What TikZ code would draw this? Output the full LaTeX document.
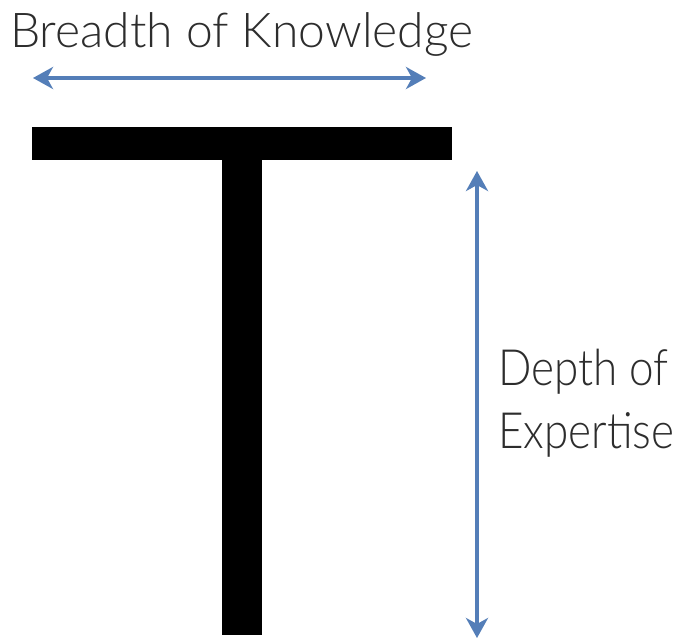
\documentclass[tikz,border=0pt]{standalone}
\usepackage{fontspec}
\setmainfont{Lato Light}
\newfontfamily\narrowlato[FakeStretch=0.88]{Lato Light}
\usepackage{xcolor}
\definecolor{sblue}{RGB}{84,126,184}
\definecolor{tgray}{RGB}{45,45,45}
\usetikzlibrary{arrows.meta,positioning}

\begin{document}
\begin{tikzpicture}[
  x=1pt,y=-1pt,
  tbar/.style={rectangle,fill=black,inner sep=0pt,outer sep=0pt},
  lbl/.style={inner sep=0pt,font=\fontsize{48}{64}\selectfont,text=tgray},
  lbln/.style={lbl,font=\narrowlato\fontsize{50}{64}\selectfont},
  arrow/.style={{Stealth[length=20pt,width=22pt,inset=6pt]}-{Stealth[length=20pt,width=22pt,inset=6pt]},line width=4pt,sblue}
]
  \useasboundingbox[fill=white] (0,0) rectangle (698,640);

  % the T
  \node[tbar,minimum width=420pt,minimum height=33pt,anchor=north west] (top) at (32,127) {};
  \node[tbar,minimum width=40pt,minimum height=475pt,below=0pt of top] (stem) {};

  % breadth
  \node[lbl,anchor=base west] (breadth) at (10,47) {Breadth of Knowledge};
  \coordinate (bl) at (33,78);
  \coordinate (br) at (426,78);
  \draw[arrow] (bl) -- (br);

  % depth
  \coordinate (dt) at (477,171);
  \coordinate (db) at (477,638);
  \draw[arrow] (dt) -- (db);
  \node[lbln,anchor=base west] (depth) at (498,385) {Depth of};
  \node[lbln,anchor=base west] (expertise) at (498,448) {Expertise};
\end{tikzpicture}
\end{document}
